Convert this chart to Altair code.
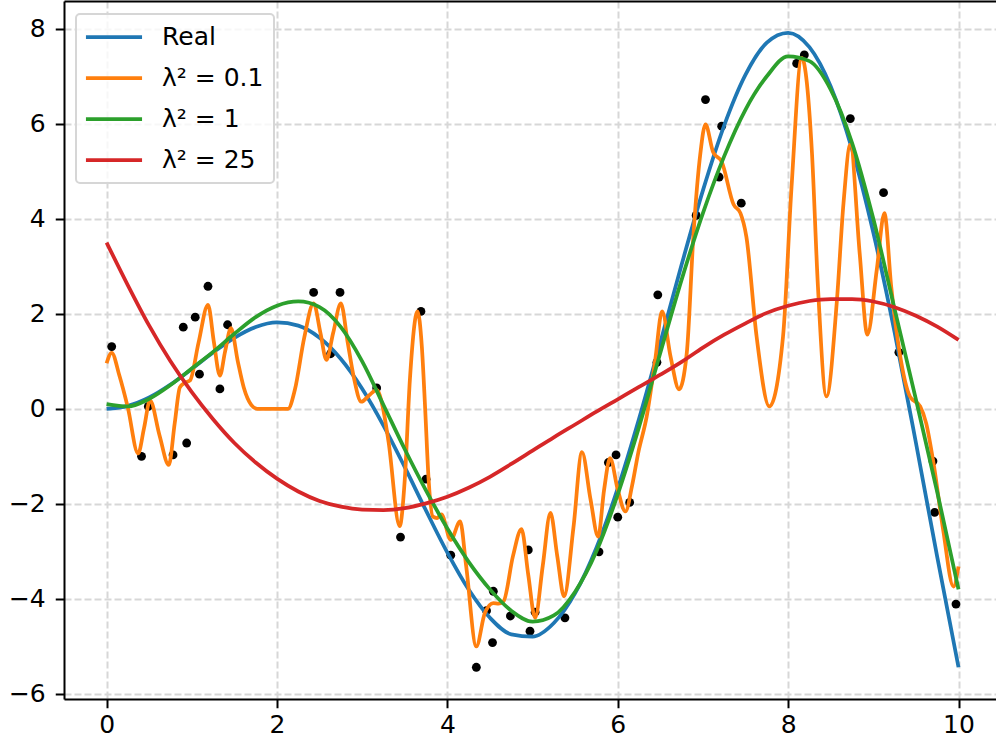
import altair as alt
import pandas as pd

# ---- data ----
GRID_X = [0.0, 0.25, 0.5, 0.75, 1.0, 1.25, 1.5, 1.75, 2.0, 2.25, 2.5, 2.75, 3.0, 3.25,
          3.5, 3.75, 4.0, 4.25, 4.5, 4.75, 5.0, 5.25, 5.5, 5.75, 6.0, 6.25, 6.5, 6.75,
          7.0, 7.25, 7.5, 7.75, 8.0, 8.25, 8.5, 8.75, 9.0, 9.25, 9.5, 9.75, 10.0]

REAL_Y = [0.000, 0.062, 0.240, 0.511, 0.841, 1.186, 1.496, 1.722, 1.819, 1.751, 1.496,
          1.050, 0.423, -0.352, -1.228, -2.144, -3.027, -3.804, -4.399, -4.747, -4.795,
          -4.509, -3.880, -2.923, -1.676, -0.207, 1.398, 3.038, 4.599, 5.968, 7.035,
          7.707, 7.915, 7.613, 6.787, 5.466, 3.709, 1.612, -0.714, -3.118, -5.440]

GREEN_Y = [0.10, 0.05, 0.21, 0.50, 0.85, 1.20, 1.58, 1.93, 2.17, 2.26, 2.14, 1.72, 1.00,
           0.08, -0.85, -1.72, -2.52, -3.22, -3.80, -4.25, -4.48, -4.35, -3.85, -3.00,
           -1.80, -0.38, 1.18, 2.72, 4.12, 5.32, 6.30, 7.00, 7.42, 7.32, 6.72, 5.60,
           4.00, 2.10, 0.20, -1.75, -3.80]

RED_Y = [3.50, 2.60, 1.75, 1.00, 0.35, -0.22, -0.72, -1.13, -1.47, -1.74, -1.94, -2.06,
         -2.12, -2.13, -2.09, -1.99, -1.85, -1.66, -1.43, -1.16, -0.88, -0.60, -0.33,
         -0.06, 0.20, 0.46, 0.72, 0.99, 1.29, 1.56, 1.80, 2.02, 2.17, 2.27, 2.31, 2.31,
         2.26, 2.14, 1.96, 1.73, 1.45]

ORANGE_X = [0.00, 0.06, 0.15, 0.25, 0.37, 0.44, 0.51, 0.62, 0.73, 0.80, 0.86, 0.92, 0.98,
            1.08, 1.19, 1.26, 1.33, 1.39, 1.46, 1.54, 1.61, 1.70, 1.77, 2.13, 2.21, 2.32,
            2.43, 2.51, 2.58, 2.66, 2.75, 2.83, 2.90, 2.99, 3.08, 3.17, 3.24, 3.31, 3.44,
            3.50, 3.56, 3.65, 3.70, 3.74, 3.78, 3.83, 3.88, 3.93, 4.04, 4.15, 4.22, 4.34,
            4.44, 4.54, 4.60, 4.66, 4.77, 4.87, 4.95, 5.03, 5.12, 5.21, 5.29, 5.37, 5.48,
            5.58, 5.68, 5.77, 5.84, 5.91, 6.00, 6.09, 6.17, 6.24, 6.34, 6.44, 6.52, 6.62,
            6.72, 6.81, 6.89, 6.97, 7.03, 7.12, 7.22, 7.36, 7.44, 7.51, 7.63, 7.78, 7.94,
            8.04, 8.16, 8.28, 8.35, 8.45, 8.57, 8.65, 8.73, 8.84, 8.93, 9.04, 9.13, 9.21,
            9.31, 9.43, 9.55, 9.62, 9.70, 9.82, 9.94, 10.00]
ORANGE_Y = [0.96, 1.18, 0.70, 0.02, -0.94, -0.40, 0.18, -0.55, -1.18, -0.30, 0.45, 0.55,
            0.60, 1.40, 2.19, 1.40, 0.70, 1.20, 1.70, 1.00, 0.45, 0.08, 0.00, 0.00, 0.40,
            1.50, 2.22, 1.60, 1.03, 1.60, 2.22, 1.40, 0.68, 0.15, 0.28, 0.40, 0.05, -0.70,
            -2.47, -1.49, 0.61, 2.05, 1.32, -0.02, -1.49, -2.27, -2.30, -2.22, -2.76,
            -2.37, -3.30, -5.00, -4.30, -4.09, -4.10, -4.05, -3.10, -2.53, -3.50, -4.40,
            -3.30, -2.19, -3.10, -3.95, -2.50, -0.91, -1.90, -2.69, -1.70, -1.04, -1.70,
            -2.16, -1.60, -0.93, -0.16, 1.03, 2.05, 1.10, 0.41, 1.17, 3.70, 5.38, 5.99,
            5.40, 5.20, 4.30, 4.12, 3.62, 1.52, 0.05, 1.52, 4.67, 7.39, 5.38, 2.57, 0.26,
            2.22, 4.33, 5.56, 3.27, 1.56, 2.92, 4.12, 2.57, 1.17, 0.26, 0.05, -0.30, -1.07,
            -2.55, -3.74, -3.32]

PTS_X = [0.06, 0.41, 0.49, 0.78, 0.90, 0.94, 1.04, 1.09, 1.19, 1.33, 1.42, 2.43, 2.63,
         2.74, 3.17, 3.45, 3.69, 3.75, 4.04, 4.34, 4.46, 4.53, 4.54, 4.74, 4.95, 4.97,
         5.03, 5.38, 5.78, 5.89, 5.98, 6.00, 6.14, 6.46, 6.47, 6.92, 7.03, 7.19, 7.22,
         7.45, 8.10, 8.19, 8.73, 9.12, 9.30, 9.70, 9.72, 9.97]
PTS_Y = [1.31, -1.00, 0.05, -0.97, 1.72, -0.72, 1.93, 0.73, 2.58, 0.42, 1.77, 2.45, 1.16,
         2.45, 0.44, -2.70, 2.05, -1.48, -3.08, -5.44, -4.25, -4.92, -3.84, -4.36, -2.97,
         -4.68, -4.28, -4.40, -3.01, -1.13, -0.97, -2.28, -1.97, 0.98, 2.40, 4.07, 6.51,
         4.88, 5.95, 4.33, 7.27, 7.45, 6.11, 4.55, 1.19, -1.10, -2.18, -4.11]

LABELS = ["Real", "λ² = 0.1", "λ² = 1", "λ² = 25"]
COLORS = ["#1f77b4", "#ff7f0e", "#2ca02c", "#d62728"]
X_TICKS = [0, 2, 4, 6, 8, 10]
Y_TICKS = [-6, -4, -2, 0, 2, 4, 6, 8]

# ---- tables ----
rows = []
for xv, yv in zip(GRID_X, REAL_Y):
    rows.append({"x": xv, "y": yv, "s": LABELS[0]})
for xv, yv in zip(ORANGE_X, ORANGE_Y):
    rows.append({"x": xv, "y": yv, "s": LABELS[1]})
for xv, yv in zip(GRID_X, GREEN_Y):
    rows.append({"x": xv, "y": yv, "s": LABELS[2]})
for xv, yv in zip(GRID_X, RED_Y):
    rows.append({"x": xv, "y": yv, "s": LABELS[3]})
lines = pd.DataFrame(rows)
pts = pd.DataFrame({"x": PTS_X, "y": PTS_Y})

FONT = "DejaVu Sans"
FS = 25
LW = 3.75
xs = alt.Scale(domain=[-0.5, 10.44], nice=False, zero=False)
ys = alt.Scale(domain=[-6.108, 8.585], nice=False, zero=False)

common = dict(title=None, grid=True, gridColor="#d7d7d7", gridDash=[7, 3],
              gridWidth=2, domainColor="black", domainWidth=2, tickColor="black",
              tickWidth=2, tickSize=8.75, labelFont=FONT, labelFontSize=FS,
              labelColor="black", format="d")
x_axis = alt.Axis(values=X_TICKS, orient="bottom", labelPadding=5, **common)
y_axis = alt.Axis(values=Y_TICKS, orient="left", labelPadding=10, **common)
top_axis = alt.Axis(orient="top", title=None, grid=False, labels=False, ticks=False,
                    domainColor="black", domainWidth=2)

color = alt.Color(
    "s:N",
    scale=alt.Scale(domain=LABELS, range=COLORS),
    title=None,
    legend=alt.Legend(
        orient="none", legendX=12, legendY=13,
        symbolType="M-2.55,0H2.55", symbolSize=484, symbolStrokeWidth=LW,
        symbolOffset=15, labelOffset=35,
        labelFont=FONT, labelFontSize=FS, labelColor="black",
        rowPadding=15,
    ),
)

points = alt.Chart(pts).mark_circle(size=78, color="black", opacity=1).encode(
    x=alt.X("x:Q", scale=xs, axis=x_axis),
    y=alt.Y("y:Q", scale=ys, axis=y_axis),
)


def line_layer(i, axis):
    return (
        alt.Chart(lines)
        .transform_filter(alt.datum.s == LABELS[i])
        .mark_line(strokeWidth=LW, interpolate="monotone")
        .encode(
            x=alt.X("x:Q", scale=xs, axis=axis),
            y=alt.Y("y:Q", scale=ys, axis=y_axis),
            color=color,
        )
    )


chart = (
    alt.layer(
        points,
        line_layer(0, None),
        line_layer(1, None),
        line_layer(2, None),
        line_layer(3, top_axis),
    )
    .resolve_axis(x="independent")
    .properties(
        width=932, height=698,
        autosize=alt.AutoSizeParams(type="none"),
        padding={"left": 64, "top": 1, "right": 0, "bottom": 47},
        background="white",
    )
    .configure_view(stroke=None)
    .configure_legend(
        padding=10, cornerRadius=4, fillColor="rgba(255,255,255,0.8)",
        strokeColor="#d6d6d6", strokeWidth=2,
    )
)

chart.save("out.html", embed_options={"renderer": "svg", "actions": False})
